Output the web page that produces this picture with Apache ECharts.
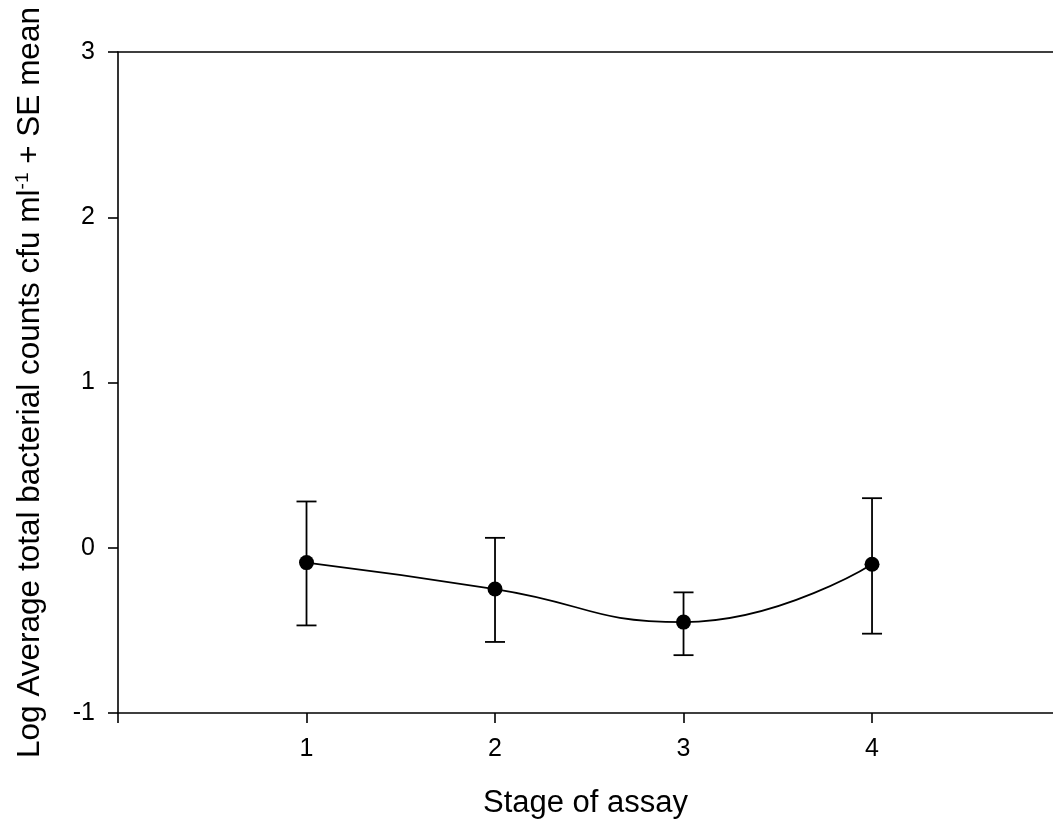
<!DOCTYPE html>
<html>
<head>
<meta charset="utf-8">
<style>
  html, body { margin: 0; padding: 0; background: #fff; }
  #main { width: 1053px; height: 827px; }
</style>
<script src="https://cdn.jsdelivr.net/npm/echarts@6/dist/echarts.min.js"></script>
</head>
<body>
<div id="main"></div>
<script>
// values
var stages = [1, 2, 3, 4];
var means = [-0.09, -0.25, -0.45, -0.10];
var upper = [0.28, 0.06, -0.27, 0.30];
var lower = [-0.47, -0.57, -0.65, -0.52];
var xTicks = [0, 1, 2, 3, 4];
var xLabels = [1, 2, 3, 4];
var yTicks = [-1, 0, 1, 2, 3];

var font = '"Liberation Sans", Arial, sans-serif';

var meanData = stages.map(function (s, i) { return [s, means[i]]; });
var barData = stages.map(function (s, i) { return [s, lower[i], upper[i]]; });

var chart = echarts.init(document.getElementById('main'));
chart.setOption({
  animation: false,
  backgroundColor: '#fff',
  // the plot is cut off at the right edge, as in the original
  grid: { left: 118, top: 52, right: 0, bottom: 114 },
  xAxis: [{
    type: 'value',
    min: 0, max: 4.96,
    name: 'Stage of assay',
    nameLocation: 'middle',
    nameGap: 75,
    nameTextStyle: { fontFamily: font, fontSize: 31, color: '#000' },
    axisLine: { show: true, onZero: false, lineStyle: { color: '#000', width: 1.6 } },
    axisTick: { show: true, inside: false, length: 10, customValues: xTicks, lineStyle: { color: '#000', width: 1.6 } },
    axisLabel: { margin: 24, fontFamily: font, fontSize: 25, color: '#000', customValues: xLabels },
    splitLine: { show: false }
  }, {
    type: 'value', position: 'top',
    min: 0, max: 4.96,
    axisLine: { show: true, onZero: false, lineStyle: { color: '#000', width: 1.6 } },
    axisTick: { show: false }, axisLabel: { show: false }, splitLine: { show: false }
  }],
  yAxis: {
    type: 'value',
    min: yTicks[0], max: yTicks[yTicks.length - 1], interval: 1,
    name: 'Log Average total bacterial counts cfu ml{sup|-1} + SE mean',
    nameLocation: 'middle',
    nameGap: 70,
    nameTextStyle: {
      fontFamily: font, fontSize: 31.5, color: '#000',
      rich: { sup: { fontFamily: font, fontSize: 19, color: '#000', padding: [0, 0, 16, 0] } }
    },
    axisLine: { show: true, onZero: false, lineStyle: { color: '#000', width: 1.6 } },
    axisTick: { show: true, inside: false, length: 10, lineStyle: { color: '#000', width: 1.6 } },
    axisLabel: { margin: 23, fontFamily: font, fontSize: 25, color: '#000' },
    splitLine: { show: false }
  },
  series: [{
    type: 'custom',
    z: 1,
    data: barData,
    renderItem: function (params, api) {
      var x = api.value(0);
      var lo = api.coord([x, api.value(1)]);
      var hi = api.coord([x, api.value(2)]);
      var style = { stroke: '#000', lineWidth: 1.8 };
      var cap = 10;
      return {
        type: 'group',
        children: [
          { type: 'line', shape: { x1: lo[0], y1: lo[1], x2: hi[0], y2: hi[1] }, style: style },
          { type: 'line', shape: { x1: hi[0] - cap, y1: hi[1], x2: hi[0] + cap, y2: hi[1] }, style: style },
          { type: 'line', shape: { x1: lo[0] - cap, y1: lo[1], x2: lo[0] + cap, y2: lo[1] }, style: style }
        ]
      };
    }
  }, {
    type: 'line',
    z: 3,
    data: meanData,
    smooth: 0.5,
    symbol: 'circle',
    symbolSize: 15,
    itemStyle: { color: '#000' },
    lineStyle: { color: '#000', width: 1.8 }
  }]
});
</script>
</body>
</html>
